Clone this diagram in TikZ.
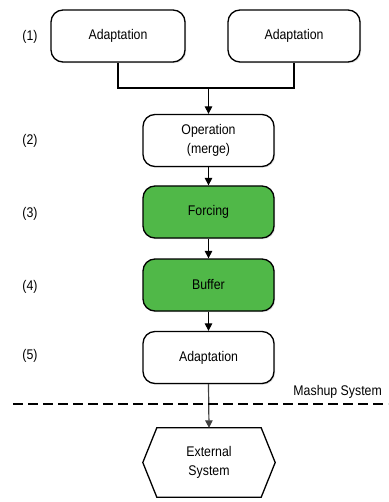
\documentclass[tikz,border=0pt]{standalone}
\usepackage{fontspec}
\setmainfont{Liberation Sans}[FakeStretch=0.88]
\usetikzlibrary{arrows.meta,shadows,calc}
\definecolor{boxgreen}{RGB}{80,184,72}
\begin{document}
\begin{tikzpicture}[x=1pt,y=-1pt,
  every node/.style={font=\fontsize{14}{19}\selectfont},
  procbox/.style={draw=black, line width=1.3pt, rounded corners=12pt, fill=white,
    minimum width=131pt, minimum height=52pt, align=center, inner sep=0pt,
    drop shadow={opacity=0.25, shadow xshift=1.2pt, shadow yshift=-1.2pt}},
  greenbox/.style={procbox, fill=boxgreen},
  steplabel/.style={inner sep=0pt},
  conn/.style={line width=1.2pt, draw=black},
  arr/.style={conn, -{Triangle[length=7.5pt,width=7.5pt]}}
]
\useasboundingbox (0,0) rectangle (388,502);

\node[procbox, minimum width=134pt] (a1) at (118,36) {Adaptation};
\node[procbox, minimum width=132pt] (a2) at (294,36) {Adaptation};
\node[procbox] (op) at (208.5,140.5) {Operation\\(merge)};
\node[greenbox] (force) at (208.5,212) {Forcing};
\node[greenbox] (buf) at (208.5,285) {Buffer};
\node[procbox] (a5) at (208.5,357.5) {Adaptation};
\node[minimum width=132pt, minimum height=69pt, align=center, inner sep=0pt] (ext) at (209,462.5) {};
\draw[line width=1.3pt, fill=white]
  ($(ext.north west)+(14,0)$) -- ($(ext.north east)+(-14,0)$) -- (ext.east)
  -- ($(ext.south east)+(-14,0)$) -- ($(ext.south west)+(14,0)$) -- (ext.west) -- cycle;
\node[align=center, inner sep=0pt] (extlabel) at (ext) {External\\System};

\node[steplabel] (l1) at (30,37) {(1)};
\node[steplabel] (l2) at (30,141) {(2)};
\node[steplabel] (l3) at (30,214) {(3)};
\node[steplabel] (l4) at (30,287) {(4)};
\node[steplabel] (l5) at (30,356) {(5)};

\coordinate (j) at (208.5,88);
\draw[conn] (a1.south) |- (j) -| (a2.south);
\draw[arr] (j) -- (op.north);
\draw[arr] (op.south) -- (force.north);
\draw[arr] (force.south) -- (buf.north);
\draw[arr] (buf.south) -- (a5.north);
\draw[arr, draw=black!75] (a5.south) -- (ext.north);

\coordinate (dl) at (13,404);
\coordinate (dr) at (388,404);
\draw[line width=1.2pt, dash pattern=on 10pt off 5pt] (dl) -- (dr);
\node[anchor=east, inner sep=0pt] (ms) at (382,392) {Mashup System};
\end{tikzpicture}
\end{document}
